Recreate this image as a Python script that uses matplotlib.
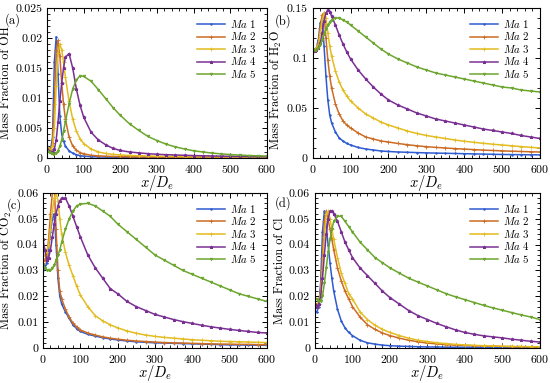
import matplotlib
matplotlib.use("Agg")
import matplotlib.pyplot as plt
from matplotlib.ticker import MultipleLocator, AutoMinorLocator, FuncFormatter

plt.rcParams['font.family'] = ['cmr10', 'DejaVu Serif']
plt.rcParams['mathtext.fontset'] = 'cm'
plt.rcParams['axes.formatter.use_mathtext'] = True
plt.rcParams['axes.unicode_minus'] = False

# ---------------- data ----------------
X = [0, 5, 10, 15, 20, 25, 30, 35, 40, 45, 50, 60, 70, 80, 90, 100, 120, 140, 160, 180,
     200, 225, 250, 275, 300, 325, 350, 375, 400, 425, 450, 475, 500, 525, 550, 575, 600]

labels = [r'$Ma$ 1', r'$Ma$ 2', r'$Ma$ 3', r'$Ma$ 4', r'$Ma$ 5']

# (a) OH, in units of 1e-3
oh_ma1 = [2.0, 1.6, 1.5, 3.5, 16.0, 20.2, 14.0, 7.0, 4.0, 2.8, 2.0, 1.2, 0.8, 0.55, 0.4, 0.3, 0.22, 0.18, 0.15, 0.13,
          0.12, 0.11, 0.1, 0.09, 0.085, 0.08, 0.075, 0.07, 0.065, 0.06, 0.058, 0.055, 0.053, 0.05, 0.05, 0.05, 0.05]
oh_ma2 = [1.8, 1.5, 1.4, 2.5, 9.0, 18.0, 19.6, 17.0, 12.5, 9.0, 6.5, 3.5, 2.0, 1.3, 0.9, 0.7, 0.45, 0.35, 0.3, 0.25,
          0.22, 0.2, 0.18, 0.17, 0.16, 0.15, 0.14, 0.13, 0.13, 0.12, 0.12, 0.11, 0.11, 0.1, 0.1, 0.1, 0.1]
oh_ma3 = [1.8, 1.5, 1.3, 2.0, 5.0, 12.0, 17.5, 19.0, 18.0, 16.0, 13.5, 9.5, 6.5, 4.5, 3.2, 2.4, 1.5, 1.0, 0.75, 0.6,
          0.5, 0.42, 0.37, 0.33, 0.3, 0.28, 0.26, 0.24, 0.22, 0.21, 0.2, 0.19, 0.18, 0.17, 0.16, 0.155, 0.15]
oh_ma4 = [1.5, 1.2, 1.0, 1.0, 1.5, 3.0, 6.0, 9.5, 12.5, 15.0, 16.8, 17.4, 15.0, 11.5, 8.8, 6.8, 4.3, 3.0, 2.2, 1.6,
          1.25, 1.0, 0.85, 0.72, 0.62, 0.55, 0.5, 0.45, 0.4, 0.37, 0.33, 0.3, 0.28, 0.26, 0.24, 0.22, 0.2]
oh_ma5 = [1.2, 1.0, 0.8, 0.6, 0.6, 0.8, 1.2, 2.0, 3.0, 4.5, 6.0, 9.0, 11.5, 13.0, 13.7, 13.6, 12.8, 11.4, 9.9, 8.4,
          7.1, 5.7, 4.6, 3.6, 2.9, 2.3, 1.85, 1.5, 1.2, 1.0, 0.82, 0.68, 0.57, 0.48, 0.41, 0.36, 0.32]

# (b) H2O
h2o_ma1 = [0.107, 0.108, 0.110, 0.118, 0.135, 0.140, 0.112, 0.082, 0.058, 0.043, 0.035, 0.026, 0.020, 0.017, 0.0145,
           0.013, 0.0105, 0.009, 0.008, 0.007, 0.0065, 0.006, 0.0057, 0.0054, 0.0051, 0.0049, 0.0047, 0.0045, 0.0043,
           0.0041, 0.0039, 0.0037, 0.0035, 0.0034, 0.0033, 0.0032, 0.0031]
h2o_ma2 = [0.107, 0.108, 0.110, 0.115, 0.130, 0.143, 0.145, 0.120, 0.098, 0.082, 0.070, 0.054, 0.044, 0.037, 0.033,
           0.030, 0.025, 0.021, 0.019, 0.017, 0.016, 0.0145, 0.0133, 0.0122, 0.0113, 0.0106, 0.0100, 0.0094, 0.0089,
           0.0084, 0.0079, 0.0075, 0.0071, 0.0068, 0.0065, 0.0062, 0.0060]
h2o_ma3 = [0.107, 0.108, 0.110, 0.113, 0.125, 0.138, 0.145, 0.140, 0.125, 0.112, 0.102, 0.087, 0.076, 0.068, 0.062,
           0.057, 0.050, 0.044, 0.040, 0.036, 0.033, 0.030, 0.027, 0.0245, 0.0225, 0.021, 0.0195, 0.018, 0.0168,
           0.0157, 0.0147, 0.0138, 0.013, 0.0122, 0.0114, 0.0107, 0.0100]
h2o_ma4 = [0.107, 0.107, 0.108, 0.110, 0.115, 0.125, 0.137, 0.145, 0.148, 0.146, 0.142, 0.133, 0.123, 0.114, 0.106,
           0.099, 0.088, 0.079, 0.071, 0.064, 0.058, 0.053, 0.049, 0.045, 0.042, 0.039, 0.037, 0.035, 0.033,
           0.031, 0.029, 0.0275, 0.026, 0.0245, 0.0225, 0.0210, 0.0195]
h2o_ma5 = [0.107, 0.108, 0.108, 0.110, 0.113, 0.118, 0.124, 0.129, 0.133, 0.136, 0.138, 0.140, 0.140, 0.138, 0.136,
           0.133, 0.127, 0.121, 0.115, 0.109, 0.104, 0.099, 0.095, 0.091, 0.088, 0.085, 0.083, 0.081, 0.079,
           0.077, 0.075, 0.073, 0.071, 0.070, 0.068, 0.067, 0.066]

# (c) CO2
co2_ma1 = [0.030, 0.031, 0.033, 0.038, 0.045, 0.050, 0.052, 0.040, 0.027, 0.020, 0.017, 0.014, 0.0115, 0.009, 0.0075,
           0.0064, 0.0053, 0.0046, 0.004, 0.0035, 0.0031, 0.0027, 0.0024, 0.0022, 0.002, 0.0019, 0.0018, 0.0017,
           0.0016, 0.0015, 0.0014, 0.0013, 0.0012, 0.0012, 0.0011, 0.0011, 0.001]
co2_ma2 = [0.033, 0.034, 0.036, 0.042, 0.052, 0.060, 0.063, 0.046, 0.030, 0.022, 0.019, 0.015, 0.012, 0.0097, 0.0082,
           0.007, 0.0058, 0.005, 0.0043, 0.0038, 0.0034, 0.003, 0.0027, 0.0025, 0.0023, 0.0021, 0.002, 0.0019,
           0.0018, 0.0017, 0.0016, 0.0015, 0.0015, 0.0014, 0.0014, 0.0013, 0.0013]
co2_ma3 = [0.035, 0.036, 0.037, 0.040, 0.046, 0.053, 0.058, 0.060, 0.057, 0.050, 0.044, 0.037, 0.032, 0.028, 0.024,
           0.0205, 0.016, 0.0125, 0.0105, 0.009, 0.0078, 0.0066, 0.0057, 0.005, 0.0045, 0.0041, 0.0038, 0.0035,
           0.0032, 0.003, 0.0028, 0.0026, 0.0025, 0.0024, 0.0023, 0.0022, 0.0021]
co2_ma4 = [0.042, 0.038, 0.034, 0.035, 0.038, 0.043, 0.048, 0.052, 0.055, 0.057, 0.058, 0.058, 0.055, 0.051, 0.047,
           0.043, 0.036, 0.031, 0.027, 0.023, 0.021, 0.018, 0.016, 0.0145, 0.013, 0.012, 0.011, 0.0102, 0.0095,
           0.0088, 0.0082, 0.0077, 0.0072, 0.0068, 0.0064, 0.0060, 0.0058]
co2_ma5 = [0.032, 0.031, 0.030, 0.030, 0.030, 0.031, 0.032, 0.034, 0.036, 0.038, 0.041, 0.046, 0.050, 0.053, 0.055,
           0.0557, 0.056, 0.055, 0.053, 0.051, 0.048, 0.045, 0.042, 0.039, 0.036, 0.034, 0.032, 0.030, 0.0285,
           0.027, 0.0255, 0.024, 0.0225, 0.021, 0.020, 0.019, 0.018]

# (d) Cl
cl_ma1 = [0.014, 0.014, 0.016, 0.025, 0.045, 0.053, 0.047, 0.040, 0.033, 0.027, 0.022, 0.015, 0.0105, 0.0078, 0.006,
          0.0048, 0.003, 0.002, 0.0015, 0.0011, 0.0009, 0.0007, 0.0006, 0.0005, 0.0004, 0.0004, 0.0003, 0.0003,
          0.0003, 0.0003, 0.0002, 0.0002, 0.0002, 0.0002, 0.0002, 0.0002, 0.0002]
cl_ma2 = [0.016, 0.016, 0.017, 0.022, 0.035, 0.049, 0.053, 0.050, 0.046, 0.042, 0.038, 0.031, 0.026, 0.022, 0.019,
          0.016, 0.012, 0.009, 0.0072, 0.0058, 0.0048, 0.0038, 0.003, 0.0024, 0.0019, 0.0016, 0.0013, 0.0011,
          0.001, 0.0009, 0.0008, 0.0007, 0.0006, 0.0005, 0.0005, 0.0004, 0.0004]
cl_ma3 = [0.017, 0.017, 0.018, 0.021, 0.030, 0.043, 0.052, 0.053, 0.050, 0.046, 0.042, 0.035, 0.029, 0.025, 0.021,
          0.019, 0.014, 0.011, 0.0088, 0.0072, 0.006, 0.0048, 0.0038, 0.003, 0.0025, 0.002, 0.0017, 0.0014,
          0.0012, 0.001, 0.0009, 0.0008, 0.0007, 0.0006, 0.0006, 0.0005, 0.0005]
cl_ma4 = [0.017, 0.016, 0.017, 0.020, 0.027, 0.036, 0.044, 0.050, 0.053, 0.053, 0.052, 0.049, 0.045, 0.041, 0.038,
          0.035, 0.031, 0.028, 0.025, 0.022, 0.0195, 0.017, 0.0145, 0.0125, 0.011, 0.0095, 0.0082, 0.007, 0.006,
          0.0053, 0.0047, 0.0043, 0.0039, 0.0034, 0.003, 0.0026, 0.0023]
cl_ma5 = [0.019, 0.019, 0.018, 0.018, 0.020, 0.025, 0.031, 0.037, 0.042, 0.046, 0.049, 0.051, 0.051, 0.049, 0.047,
          0.045, 0.041, 0.038, 0.035, 0.033, 0.031, 0.029, 0.027, 0.0255, 0.024, 0.0225, 0.021, 0.0198, 0.0187,
          0.0176, 0.0165, 0.0155, 0.0146, 0.0137, 0.0128, 0.012, 0.011]

panels = [
    ('(a)', r'Mass Fraction of OH', [[v * 1e-3 for v in s] for s in (oh_ma1, oh_ma2, oh_ma3, oh_ma4, oh_ma5)], 0.025, 0.005),
    ('(b)', r'Mass Fraction of H$_2$O', [h2o_ma1, h2o_ma2, h2o_ma3, h2o_ma4, h2o_ma5], 0.15, 0.05),
    ('(c)', r'Mass Fraction of CO$_2$', [co2_ma1, co2_ma2, co2_ma3, co2_ma4, co2_ma5], 0.06, 0.01),
    ('(d)', r'Mass Fraction of Cl', [cl_ma1, cl_ma2, cl_ma3, cl_ma4, cl_ma5], 0.06, 0.01),
]

colors = ['#2F5BD0', '#CC6C24', '#E3BC20', '#7A3092', '#6DA62F']
markers = ['.', '+', '+', '*', 'v']
msizes = [2.2, 2.6, 2.6, 2.4, 1.8]

positions = [
    [0.0855, 0.5875, 0.400, 0.3916],
    [0.5685, 0.5875, 0.4133, 0.3916],
    [0.0782, 0.0914, 0.4073, 0.4047],
    [0.5727, 0.0914, 0.4091, 0.4047],
]
# tag positions: (x fraction, top y fraction)
label_pos = [(0.008, 0.965), (0.500, 0.962), (0.012, 0.482), (0.500, 0.488)]
ylab_y = [0.5, 0.45, 0.5, 0.5]

fig = plt.figure(figsize=(5.5, 3.83), dpi=100)
fmt = FuncFormatter(lambda v, p: ('%g' % round(v, 6)))

for (tag, ylab, series, ymax, ystep), pos, lp, yy in zip(panels, positions, label_pos, ylab_y):
    ax = fig.add_axes(pos)
    for s, c, m, ms, lab in zip(series, colors, markers, msizes, labels):
        ax.plot(X, s, color=c, lw=1.1, marker=m, ms=ms, mew=0.6, label=lab)
    ax.set_xlim(0, 600)
    ax.set_ylim(0, ymax)
    ax.xaxis.set_major_locator(MultipleLocator(100))
    ax.xaxis.set_minor_locator(AutoMinorLocator(5))
    ax.yaxis.set_major_locator(MultipleLocator(ystep))
    ax.yaxis.set_minor_locator(AutoMinorLocator(5))
    ax.yaxis.set_major_formatter(fmt)
    ax.tick_params(which='both', direction='in', top=True, right=True, labelsize=8.5)
    ax.tick_params(which='major', length=3.5, width=0.7)
    ax.tick_params(which='minor', length=2, width=0.6)
    for sp in ax.spines.values():
        sp.set_linewidth(0.8)
    ax.set_xlabel(r'$x/D_e$', fontsize=10.5, labelpad=-1)
    ax.set_ylabel(ylab, fontsize=8.8, labelpad=2)
    ax.yaxis.label.set_y(yy)
    ax.legend(loc='upper right', frameon=False, fontsize=7.8, handlelength=2.6,
              labelspacing=0.05, borderaxespad=0.5, handletextpad=0.5)
    fig.text(lp[0], lp[1], tag, fontsize=9, va='top')

fig.savefig('out.png', dpi=100)
